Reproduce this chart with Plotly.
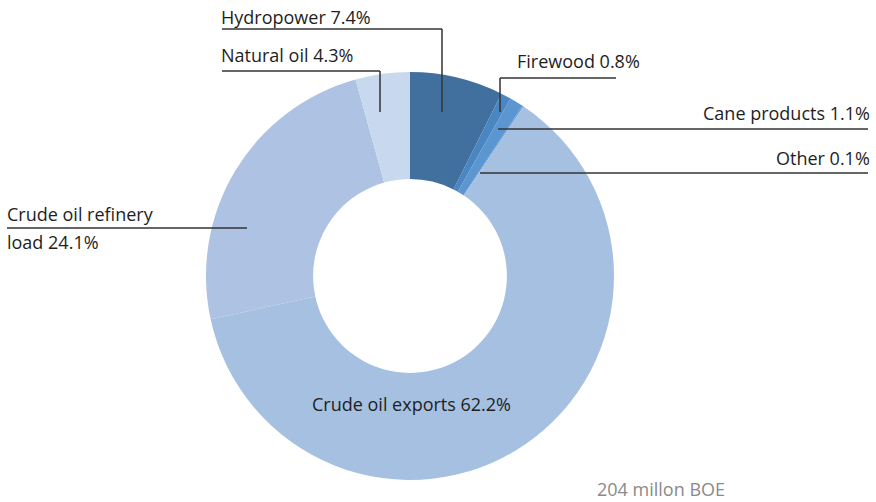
import plotly.graph_objects as go

labels = ["Hydropower", "Firewood", "Cane products", "Other",
          "Crude oil exports", "Crude oil refinery load", "Natural oil"]
values = [7.4, 0.8, 1.1, 0.1, 62.2, 24.1, 4.3]
colors = ["#41709e", "#4a86c2", "#5b96d0", "#6aa0d6",
          "#a6c0e2", "#aec3e3", "#c8d8ee"]
total_note = "204 millon BOE"

W, H = 876, 502
def px(x): return x / W
def py(y): return 1 - y / H

fig = go.Figure(go.Pie(
    labels=labels, values=values, sort=False, direction="clockwise",
    rotation=0, hole=0.475, textinfo="none", hoverinfo="label+percent",
    marker=dict(colors=colors, line=dict(width=0)),
    domain=dict(x=[px(206), px(614)], y=[py(480), py(72)]),
    showlegend=False,
))

FAM = "Open Sans, sans-serif"
FONT = dict(family=FAM, size=18, color="#1e1e1e")
ann = []
def add_text(text, x, y, xanchor="left", yanchor="middle", font=FONT):
    ann.append(dict(text=text, x=px(x), y=py(y), xref="paper", yref="paper",
                    xanchor=xanchor, yanchor=yanchor, showarrow=False, font=font))

add_text(f"{labels[0]} {values[0]}%", 219, 17)
add_text(f"{labels[6]} {values[6]}%", 219, 55)
add_text(f"{labels[1]} {values[1]}%", 515, 61)
add_text(f"{labels[2]} {values[2]}%", 872, 113, xanchor="right")
add_text(f"{labels[3]} {values[3]}%", 872, 158, xanchor="right")
add_text("Crude oil refinery", 5, 214)
add_text(f"load {values[5]}%", 5, 242)
add_text(f"{labels[4]} {values[4]}%", 411, 404, xanchor="center")
add_text(total_note, 595, 489,
         font=dict(family=FAM, size=18, color="#8a8a8a"))

LINE = dict(color="#333333", width=1.5)
segs = [
    [(222, 29), (442, 29), (442, 112)],
    [(222, 71), (380, 71), (380, 112)],
    [(616, 78), (500, 78), (500, 112)],
    [(868, 129), (498, 129)],
    [(868, 173), (480, 173)],
    [(7, 228), (247, 228)],
]
shapes = []
for s in segs:
    for (x0, y0), (x1, y1) in zip(s[:-1], s[1:]):
        shapes.append(dict(type="line", xref="paper", yref="paper",
                           x0=px(x0), y0=py(y0), x1=px(x1), y1=py(y1), line=LINE))

fig.update_layout(width=W, height=H, margin=dict(l=0, r=0, t=0, b=0),
                  paper_bgcolor="white", plot_bgcolor="white",
                  annotations=ann, shapes=shapes)
fig.write_html("out.html", config={"displayModeBar": False},
               post_script="document.body.style.margin='0';document.body.style.overflow='hidden';")
